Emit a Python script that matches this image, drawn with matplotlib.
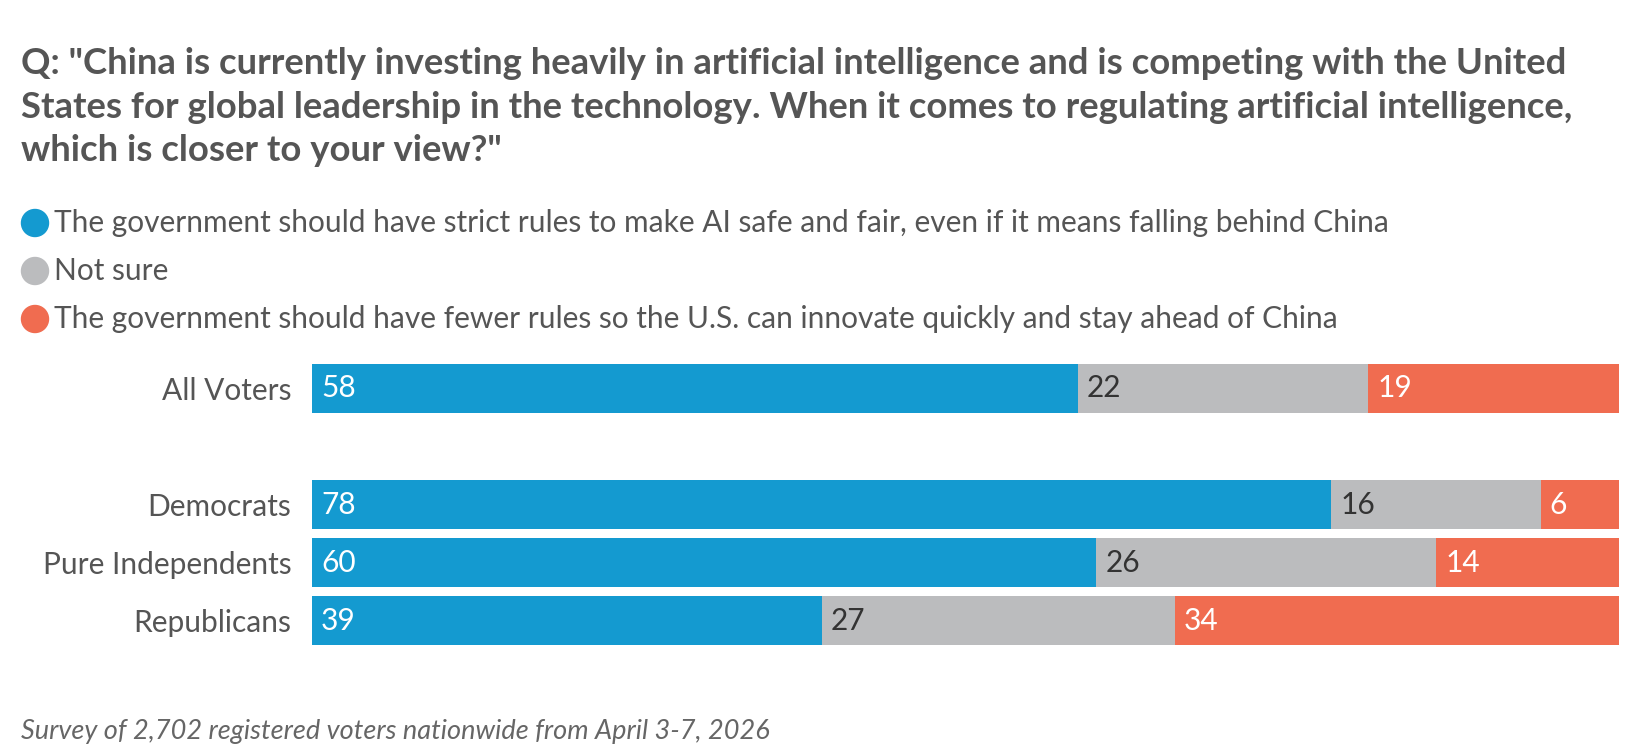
import matplotlib.pyplot as plt
from matplotlib.patches import Ellipse
import numpy as np

# data
groups = ['All Voters', 'Democrats', 'Pure Independents', 'Republicans']
strict_rules = [58, 78, 60, 39]
not_sure = [22, 16, 26, 27]
fewer_rules = [19, 6, 14, 34]

series_names = [
    'The government should have strict rules to make AI safe and fair, even if it means falling behind China',
    'Not sure',
    'The government should have fewer rules so the U.S. can innovate quickly and stay ahead of China',
]
colors = ['#149ad0', '#bbbcbe', '#f06c50']
label_colors = ['white', '#333333', 'white']

title = ('Q: "China is currently investing heavily in artificial intelligence and is competing with the United\n'
         'States for global leadership in the technology. When it comes to regulating artificial intelligence,\n'
         'which is closer to your view?"')
note = 'Survey of 2,702 registered voters nationwide from April 3-7, 2026'

plt.rcParams['font.family'] = ['Lato', 'DejaVu Sans']

fig = plt.figure(figsize=(16.4, 7.52), dpi=100)
W, H = 1640, 752

# title
fig.text(21 / W, 1 - 107 / H, title, fontsize=26.3, fontweight='bold', color='#555555',
         va='center', ha='left', linespacing=1.4)

# legend built by hand (circles + text)
leg_y = [223, 271, 319]
for name, c, y in zip(series_names, colors, leg_y):
    fig.add_artist(Ellipse((35 / W, 1 - y / H), 27 / W, 27 / H, transform=fig.transFigure,
                           color=c))
    fig.text(54 / W, 1 - y / H, name, fontsize=21.5, color='#555555', va='center', ha='left')

# bars
ax = fig.add_axes([312 / W, 1 - 645 / H, (1619 - 312) / W, (645 - 364) / H])
ypos = np.array([0, 2, 3, 4])
data = np.array([strict_rules, not_sure, fewer_rules], dtype=float)
totals = data.sum(axis=0)
share = data / totals * 100
left = np.zeros(len(groups))
for i in range(3):
    ax.barh(ypos, share[i], left=left, height=0.84, color=colors[i])
    for j in range(len(groups)):
        ax.text(left[j] + 0.7, ypos[j], str(int(data[i, j])), color=label_colors[i],
                fontsize=21.5, va='center', ha='left')
    left += share[i]

ax.set_xlim(0, 100)
ax.set_ylim(4.42, -0.42)
ax.set_yticks(ypos)
ax.set_yticklabels(groups, fontsize=21.5, color='#555555')
ax.tick_params(axis='y', length=0, pad=15)
ax.set_xticks([])
for s in ax.spines.values():
    s.set_visible(False)

fig.text(21 / W, 1 - 731 / H, note, fontsize=19.5, style='italic', color='#666666',
         va='center', ha='left')

fig.savefig('out.png', dpi=100, facecolor='white')
